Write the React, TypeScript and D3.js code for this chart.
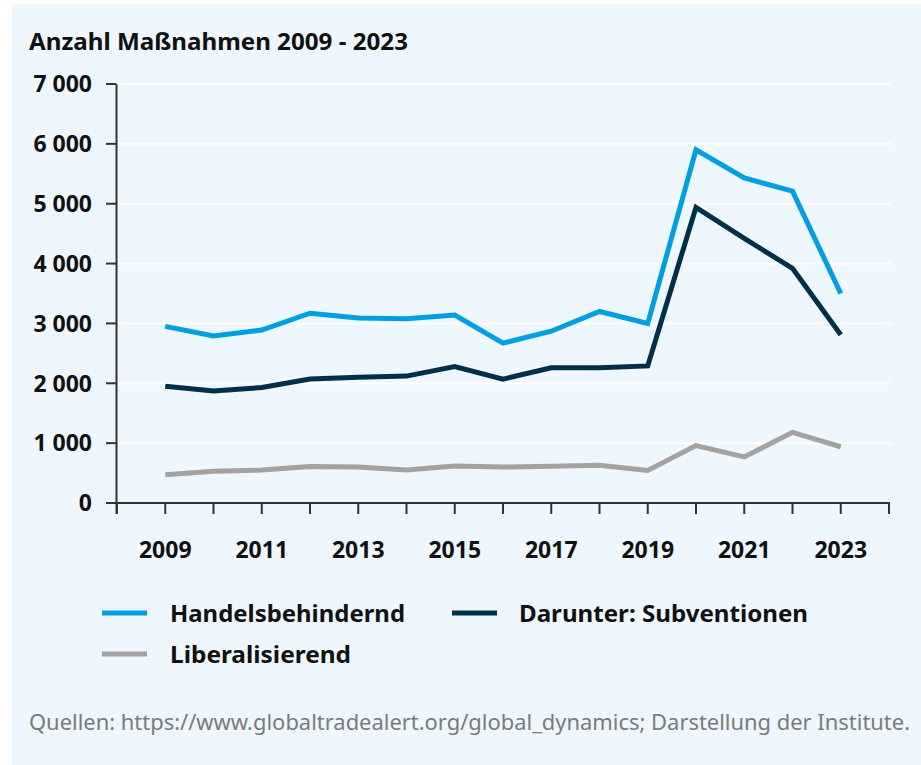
import React from "react";
import * as d3 from "d3";

const years = [2009, 2010, 2011, 2012, 2013, 2014, 2015, 2016, 2017, 2018, 2019, 2020, 2021, 2022, 2023];
const handelsbehindernd = [2950, 2790, 2890, 3170, 3090, 3080, 3140, 2670, 2870, 3200, 3000, 5900, 5430, 5210, 3500];
const subventionen = [1950, 1870, 1930, 2070, 2100, 2120, 2280, 2070, 2260, 2260, 2290, 4940, 4420, 3920, 2810];
const liberalisierend = [470, 530, 550, 610, 600, 550, 620, 600, 615, 630, 545, 960, 770, 1180, 940];

const yTicks = [0, 1000, 2000, 3000, 4000, 5000, 6000, 7000];
const xTickYears = [2008, 2009, 2010, 2011, 2012, 2013, 2014, 2015, 2016, 2017, 2018, 2019, 2020, 2021, 2022, 2023, 2024];
const xLabelYears = [2009, 2011, 2013, 2015, 2017, 2019, 2021, 2023];

const title = "Anzahl Maßnahmen 2009 - 2023";
const source = "Quellen: https://www.globaltradealert.org/global_dynamics; Darstellung der Institute.";

const series = [
  { name: "Handelsbehindernd", values: handelsbehindernd, color: "#009ee3" },
  { name: "Darunter: Subventionen", values: subventionen, color: "#003049" },
  { name: "Liberalisierend", values: liberalisierend, color: "#a2a2a2" },
];

const FONT = "'Noto Sans', Roboto, sans-serif";

export default function App() {
  const W = 921, H = 765;
  const x = d3.scaleLinear().domain([2008, 2024]).range([117, 889]);
  const y = d3.scaleLinear().domain([0, 7000]).range([503, 84]);
  const line = d3.line<number>().x((_, i) => x(years[i])).y((d) => y(d));
  const fmt = (v: number) => (v >= 1000 ? `${Math.floor(v / 1000)} ${String(v % 1000).padStart(3, "0")}` : String(v));

  return (
    <svg width={W} height={H} style={{ position: "absolute", left: 0, top: 0 }}>
      <rect x={0} y={0} width={W} height={H} fill="#ffffff" />
      <rect x={12} y={4} width={W - 12} height={H - 4} fill="#eef6fe" />
      <text x={29} y={50} fontFamily={FONT} fontWeight={700} fontSize={23} fill="#111" textLength={379} lengthAdjust="spacingAndGlyphs">{title}</text>

      {yTicks.filter((t) => t > 0).map((t) => (
        <line key={"g" + t} x1={118} x2={891} y1={y(t)} y2={y(t)} stroke="#ffffff" strokeWidth={2} />
      ))}

      {series.map((s) => (
        <path key={s.name} d={line(s.values) || ""} fill="none" stroke={s.color} strokeWidth={5} strokeLinejoin="miter" />
      ))}

      <line x1={116.5} x2={116.5} y1={y(7000)} y2={514} stroke="#333" strokeWidth={2} />
      <line x1={106} x2={890} y1={503} y2={503} stroke="#333" strokeWidth={2} />
      {yTicks.map((t) => (
        <g key={"y" + t}>
          <line x1={106} x2={116} y1={y(t)} y2={y(t)} stroke="#333" strokeWidth={2} />
          <text x={92} y={y(t)} dy="0.36em" textAnchor="end" fontFamily={FONT} fontWeight={700} fontSize={23} fill="#111">{fmt(t)}</text>
        </g>
      ))}
      {xTickYears.map((t) => (
        <line key={"x" + t} x1={x(t)} x2={x(t)} y1={503} y2={514} stroke="#333" strokeWidth={2} />
      ))}
      {xLabelYears.map((t) => (
        <text key={"xl" + t} x={x(t)} y={558} textAnchor="middle" fontFamily={FONT} fontWeight={700} fontSize={23} fill="#111">{t}</text>
      ))}

      <line x1={102} x2={147} y1={613} y2={613} stroke={series[0].color} strokeWidth={5} />
      <text x={170} y={622} fontFamily={FONT} fontWeight={700} fontSize={24} fill="#111" textLength={235} lengthAdjust="spacingAndGlyphs">{series[0].name}</text>
      <line x1={452} x2={497} y1={613} y2={613} stroke={series[1].color} strokeWidth={5} />
      <text x={519} y={622} fontFamily={FONT} fontWeight={700} fontSize={24} fill="#111" textLength={289} lengthAdjust="spacingAndGlyphs">{series[1].name}</text>
      <line x1={102} x2={147} y1={654} y2={654} stroke={series[2].color} strokeWidth={5} />
      <text x={170} y={663} fontFamily={FONT} fontWeight={700} fontSize={24} fill="#111" textLength={181} lengthAdjust="spacingAndGlyphs">{series[2].name}</text>

      <text x={29} y={730} fontFamily={FONT} fontWeight={400} fontSize={21} fill="#7b7b7b" textLength={881} lengthAdjust="spacingAndGlyphs">{source}</text>
    </svg>
  );
}
